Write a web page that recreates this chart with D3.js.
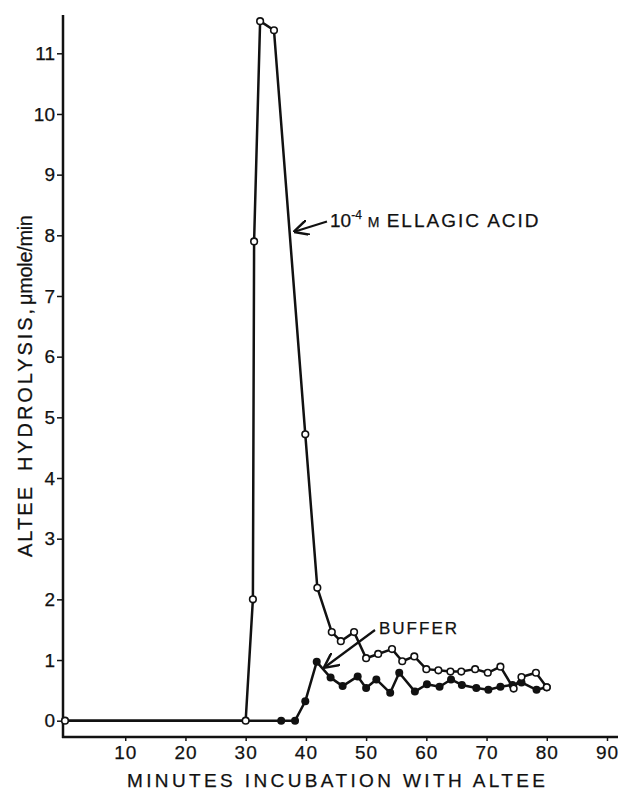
<!DOCTYPE html>
<html>
<head>
<meta charset="utf-8">
<script src="https://cdn.jsdelivr.net/npm/d3@7"></script>
<style>
  body { margin: 0; background: #fff; }
  svg { display: block; }
  text { font-family: "Liberation Sans", Arial, sans-serif; fill: #111; stroke: #111; stroke-width: 0.25px; }
</style>
</head>
<body>
<script>
// minutes vs rate (umole/min)
const ellagicX = [0, 30, 31.2, 31.4, 32.4, 34.7, 39.9, 41.9, 44.3, 45.8, 48, 50, 52, 54.3, 56, 58, 60, 62, 64, 65.8, 68.1, 70.2, 72.3, 74.5, 75.8, 78.2, 80];
const ellagicY = [0, 0, 2.0, 7.9, 11.53, 11.38, 4.72, 2.19, 1.46, 1.31, 1.46, 1.03, 1.1, 1.18, 0.98, 1.06, 0.85, 0.83, 0.81, 0.81, 0.85, 0.79, 0.89, 0.53, 0.72, 0.79, 0.55];

const bufferX = [0, 35.9, 38.2, 39.9, 41.8, 44.1, 46.1, 48.6, 50, 51.7, 54, 55.5, 58.1, 60.1, 62.2, 64.1, 65.9, 68.3, 70.3, 72.3, 74.3, 75.8, 78.3, 80];
const bufferY = [0, 0, 0, 0.32, 0.97, 0.71, 0.57, 0.73, 0.54, 0.68, 0.46, 0.79, 0.48, 0.6, 0.56, 0.68, 0.59, 0.54, 0.51, 0.56, 0.59, 0.63, 0.51, 0.55];

const xTicks = [10, 20, 30, 40, 50, 60, 70, 80, 90];
const yTicks = [0, 1, 2, 3, 4, 5, 6, 7, 8, 9, 10, 11];

const w = 624, h = 790;

const x = d3.scaleLinear().domain([0, 90]).range([65, 607]);
const y = d3.scaleLinear().domain([0, 11]).range([720.7, 53.3]);

const svg = d3.select("body").append("svg")
  .attr("width", w)
  .attr("height", h);

// axis frame lines
svg.append("line")
  .attr("x1", 63).attr("x2", 63).attr("y1", 15).attr("y2", 738)
  .attr("stroke", "#111").attr("stroke-width", 2.5);
svg.append("line")
  .attr("x1", 62).attr("x2", 618).attr("y1", 737).attr("y2", 737)
  .attr("stroke", "#111").attr("stroke-width", 2.5);

const xAxis = d3.axisBottom(x).tickValues(xTicks).tickSize(4).tickSizeOuter(0).tickPadding(7);
const yAxis = d3.axisLeft(y).tickValues(yTicks).tickSize(6).tickSizeOuter(0).tickPadding(2);

const gx = svg.append("g")
  .attr("transform", "translate(0,737)")
  .call(xAxis);
gx.select(".domain").remove();
gx.selectAll("line").attr("stroke", "#111").attr("stroke-width", 1.5);
gx.selectAll("text")
  .attr("font-size", 19)
  .attr("fill", "#111")
  .attr("dy", "0.6em")
  .style("letter-spacing", "1px");

const gy = svg.append("g")
  .attr("transform", "translate(63,0)")
  .call(yAxis);
gy.select(".domain").remove();
gy.selectAll("line").attr("stroke", "#111").attr("stroke-width", 1.5);
gy.selectAll("text")
  .attr("font-size", 19)
  .attr("fill", "#111");

// lines
const ellagic = ellagicX.map((d, i) => [d, ellagicY[i]]);
const buffer = bufferX.map((d, i) => [d, bufferY[i]]);

const line = d3.line().x(d => x(d[0])).y(d => y(d[1]));

svg.append("path")
  .datum(buffer)
  .attr("d", line)
  .attr("fill", "none")
  .attr("stroke", "#111")
  .attr("stroke-width", 2.5)
  .attr("stroke-linejoin", "round");

svg.append("path")
  .datum(ellagic)
  .attr("d", line)
  .attr("fill", "none")
  .attr("stroke", "#111")
  .attr("stroke-width", 2.5)
  .attr("stroke-linejoin", "round");

svg.selectAll("circle.buf")
  .data(buffer.slice(1))
  .enter()
  .append("circle")
  .attr("class", "buf")
  .attr("cx", d => x(d[0]))
  .attr("cy", d => y(d[1]))
  .attr("r", 4)
  .attr("fill", "#111");

svg.selectAll("circle.ell")
  .data(ellagic)
  .enter()
  .append("circle")
  .attr("class", "ell")
  .attr("cx", d => x(d[0]))
  .attr("cy", d => y(d[1]))
  .attr("r", 3.3)
  .attr("fill", "#fff")
  .attr("stroke", "#111")
  .attr("stroke-width", 1.6);

// arrow heads
svg.append("defs").append("marker")
  .attr("id", "arr")
  .attr("viewBox", "0 0 10 10")
  .attr("refX", 9).attr("refY", 5)
  .attr("markerWidth", 7).attr("markerHeight", 7)
  .attr("orient", "auto")
  .append("path")
  .attr("d", "M0,0 L10,5 L0,10")
  .attr("fill", "none")
  .attr("stroke", "#111")
  .attr("stroke-width", 1.6);

// annotation: ellagic acid
svg.append("line")
  .attr("x1", 327).attr("y1", 221.5)
  .attr("x2", 295).attr("y2", 231.5)
  .attr("stroke", "#111").attr("stroke-width", 2.2)
  .attr("marker-end", "url(#arr)");

const lab = svg.append("text")
  .attr("x", 330).attr("y", 227)
  .attr("font-size", 19);
lab.append("tspan").text("10");
lab.append("tspan").text("-4").attr("font-size", 12).attr("dy", -8);
lab.append("tspan").text(" M").attr("font-size", 14).attr("dy", 8).attr("dx", 2);
lab.append("tspan").text(" ELLAGIC ACID").style("letter-spacing", "2px");

// annotation: buffer
svg.append("line")
  .attr("x1", 375).attr("y1", 630)
  .attr("x2", 325).attr("y2", 667)
  .attr("stroke", "#111").attr("stroke-width", 2.2)
  .attr("marker-end", "url(#arr)");

svg.append("text")
  .attr("x", 379).attr("y", 634)
  .attr("font-size", 17)
  .attr("textLength", 78)
  .attr("lengthAdjust", "spacing")
  .text("BUFFER");

// axis titles
svg.append("text")
  .attr("x", 127).attr("y", 787)
  .attr("font-size", 19)
  .attr("textLength", 418)
  .attr("lengthAdjust", "spacing")
  .text("MINUTES INCUBATION WITH ALTEE");

// y title in three pieces, each spaced like the original lettering
const yTitle = [
  { t: "ALTEE", start: 557, len: 70 },
  { t: "HYDROLYSIS,", start: 471, len: 162 },
  { t: "\u03bcmole/min", start: 305, len: 90 }
];
svg.selectAll("text.ytitle")
  .data(yTitle)
  .enter()
  .append("text")
  .attr("class", "ytitle")
  .attr("transform", d => "translate(32," + d.start + ") rotate(-90)")
  .attr("font-size", 20)
  .attr("textLength", d => d.len)
  .attr("lengthAdjust", "spacing")
  .text(d => d.t);
</script>
</body>
</html>
